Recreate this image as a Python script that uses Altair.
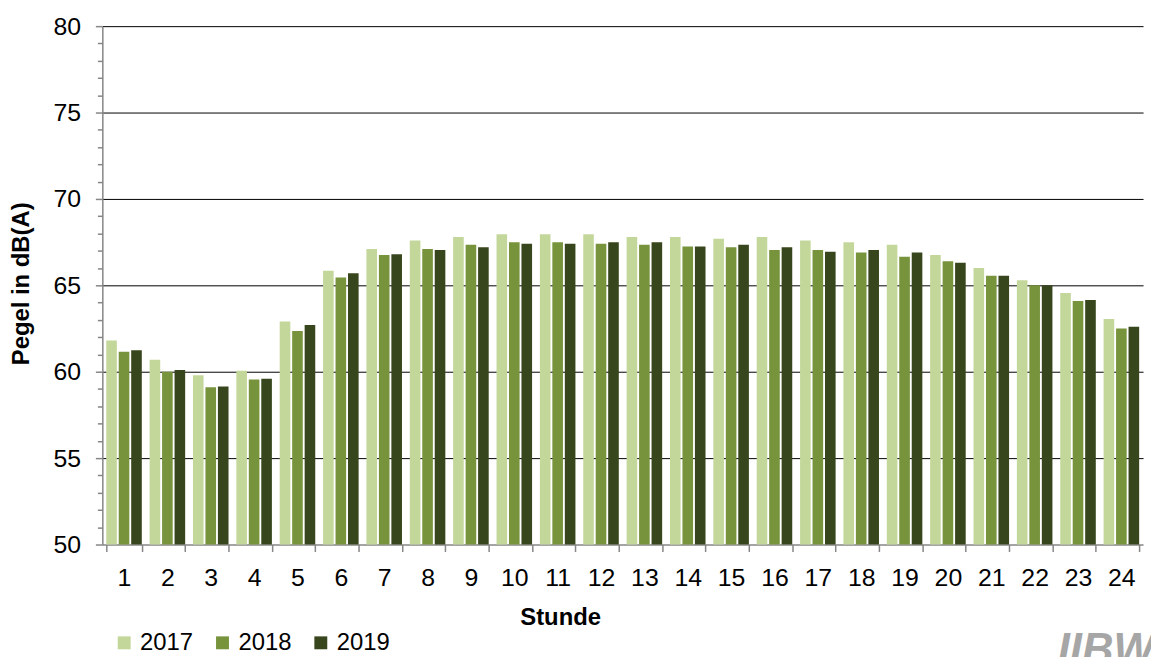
import altair as alt
import pandas as pd

hours = list(range(1, 25))
years = ["2017", "2018", "2019"]
v2017 = [61.8, 60.7, 59.8, 60.05, 62.9, 65.85, 67.1, 67.6, 67.8, 67.95, 67.95, 67.95,
         67.8, 67.8, 67.7, 67.8, 67.6, 67.5, 67.35, 66.75, 66.0, 65.3, 64.55, 63.05]
v2018 = [61.15, 60.0, 59.1, 59.55, 62.35, 65.45, 66.75, 67.1, 67.35, 67.5, 67.5, 67.4,
         67.35, 67.25, 67.2, 67.05, 67.05, 66.9, 66.65, 66.4, 65.55, 65.0, 64.1, 62.5]
v2019 = [61.25, 60.1, 59.15, 59.6, 62.7, 65.7, 66.8, 67.05, 67.2, 67.4, 67.4, 67.5,
         67.5, 67.25, 67.35, 67.2, 66.95, 67.05, 66.9, 66.3, 65.55, 65.0, 64.15, 62.6]
colors = ["#C4D79B", "#77933C", "#38461D"]
logo = ["IIBW"]

rows = []
for y, vals in zip(years, [v2017, v2018, v2019]):
    for h, v in zip(hours, vals):
        rows.append({"Stunde": h, "Jahr": y, "Pegel": v})
df = pd.DataFrame(rows)

FONT = "Liberation Sans"

bars = alt.Chart(df).mark_bar().encode(
    x=alt.X("Stunde:O",
            scale=alt.Scale(paddingInner=0.18, paddingOuter=0.09),
            axis=alt.Axis(labelAngle=0, tickBand="extent", tickSize=7, tickWidth=1.5,
                          tickColor="#868686", domainColor="#868686", domainWidth=1.5,
                          labelFontSize=25, labelPadding=14, labelColor="#000000",
                          labelFont=FONT, title="Stunde", titleFont=FONT,
                          titleFontSize=24, titleFontWeight="bold", titleColor="#000000",
                          titleX=461, titleY=81, titleBaseline="alphabetic",
                          titleAlign="center", grid=False)),
    xOffset=alt.XOffset("Jahr:N", scale=alt.Scale(paddingInner=0.15, paddingOuter=0)),
    y=alt.Y("Pegel:Q",
            scale=alt.Scale(domain=[50, 80], nice=False, zero=False),
            axis=alt.Axis(values=list(range(50, 81)),
                          labelExpr="datum.value % 5 === 0 ? datum.label : ''",
                          tickSize={"condition": {"test": "datum.value % 5 === 0", "value": 7}, "value": 5},
                          tickColor="#868686", tickWidth=1.5,
                          domainColor="#868686", domainWidth=1.5,
                          grid=True, gridColor="#000000", gridWidth=1,
                          gridOpacity={"condition": {"test": "datum.value % 5 === 0 && datum.value > 50", "value": 1}, "value": 0},
                          labelFontSize=25, labelPadding=15, labelColor="#000000", labelFont=FONT,
                          title="Pegel in dB(A)", titleFont=FONT, titleFontSize=24,
                          titleFontWeight="bold", titleColor="#000000",
                          titleX=-69, titleY=259, titleAlign="center", titleBaseline="bottom",
                          titleAngle=270)),
    y2=alt.datum(50),
    color=alt.Color("Jahr:N", scale=alt.Scale(domain=years, range=colors),
                    legend=alt.Legend(title=None, orient="none", direction="horizontal",
                                      legendX=10, legendY=609, symbolType="square",
                                      symbolSize=169, symbolStrokeWidth=0,
                                      labelFontSize=24, labelFont=FONT, labelColor="#000000",
                                      labelOffset=4, columnPadding=17)),
)

logo_df = pd.DataFrame({"t": logo})
logo_text = alt.Chart(logo_df).mark_text(
    font=FONT, fontSize=44, fontStyle="italic", fontWeight="bold",
    color="#A6A6A6", align="left", baseline="alphabetic"
).encode(text="t:N", x=alt.value(962), y=alt.value(642))

chart = alt.layer(bars, logo_text).properties(
    width=1048, height=522,
    padding={"left": 95, "top": 16, "right": 8, "bottom": 111},
    autosize=alt.AutoSizeParams(type="none"),
).configure_view(stroke=None)

chart.save("out.html", embed_options={"renderer": "svg", "actions": False})
